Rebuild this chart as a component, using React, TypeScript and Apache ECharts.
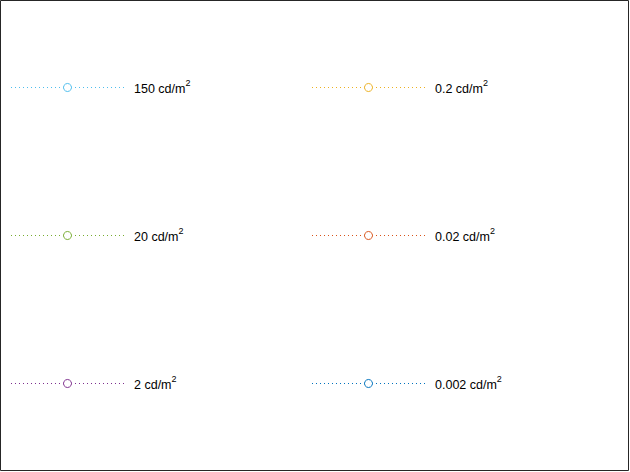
import React, { useEffect, useRef } from "react";
import * as echarts from "echarts";

const labels = ["150", "20", "2", "0.2", "0.02", "0.002"];
const colors = ["#4DBEEE", "#77AC30", "#7E2F8E", "#EDB120", "#D95319", "#0072BD"];
const unit = " cd/m";
const sup = "2";

const colLeft = [10.5, 311.5];
const rowCenter = [87.5, 235.5, 383.5];

export default function App() {
  const ref = useRef<HTMLDivElement>(null);
  useEffect(() => {
    if (!ref.current) return;
    const chart = echarts.init(ref.current, undefined, { renderer: "svg" });
    const itemH = 10;
    const font = "Liberation Sans, Arial, sans-serif";
    const legends = labels.map((name, i) => {
      const col = Math.floor(i / 3);
      const row = i % 3;
      return {
        data: [name],
        orient: "horizontal",
        left: colLeft[col],
        top: rowCenter[row] - 9,
        padding: 0,
        itemWidth: 113,
        itemHeight: itemH,
        selectedMode: false,
        formatter: (n: string) => `{a|${n}${unit}}{s|${sup}}`,
        textStyle: {
          color: "#000",
          fontFamily: font,
          fontSize: 12.5,
          rich: {
            a: { fontSize: 12.5, color: "#000", lineHeight: 14, padding: [2, 0, 0, 5], fontFamily: font },
            s: { fontSize: 9, color: "#000", lineHeight: 9, padding: [0, 0, 9, 0], fontFamily: font },
          },
        },
        itemStyle: { color: "#fff", borderColor: colors[i], borderWidth: 1 },
        lineStyle: { color: colors[i], width: 1, type: [1, 3] },
      };
    });
    const series = labels.map((name, i) => ({
      type: "line",
      name,
      data: [],
      symbol: "circle",
      itemStyle: { color: "#fff", borderColor: colors[i], borderWidth: 1 },
      lineStyle: { color: colors[i], width: 1, type: [1, 3] },
    }));
    chart.setOption({
      animation: false,
      backgroundColor: "#fff",
      grid: { left: 0, right: 0, top: 0, bottom: 0, show: false },
      xAxis: { type: "value", show: false },
      yAxis: { type: "value", show: false },
      legend: legends,
      series,
      graphic: [
        {
          type: "rect",
          shape: { x: 0.5, y: 0.5, width: 628, height: 470 },
          style: { fill: "none", stroke: "#262626", lineWidth: 1 },
          silent: true,
        },
      ],
    });
    return () => chart.dispose();
  }, []);
  return (
    <div
      ref={ref}
      style={{ position: "fixed", left: 0, top: 0, width: 630, height: 472 }}
    />
  );
}
